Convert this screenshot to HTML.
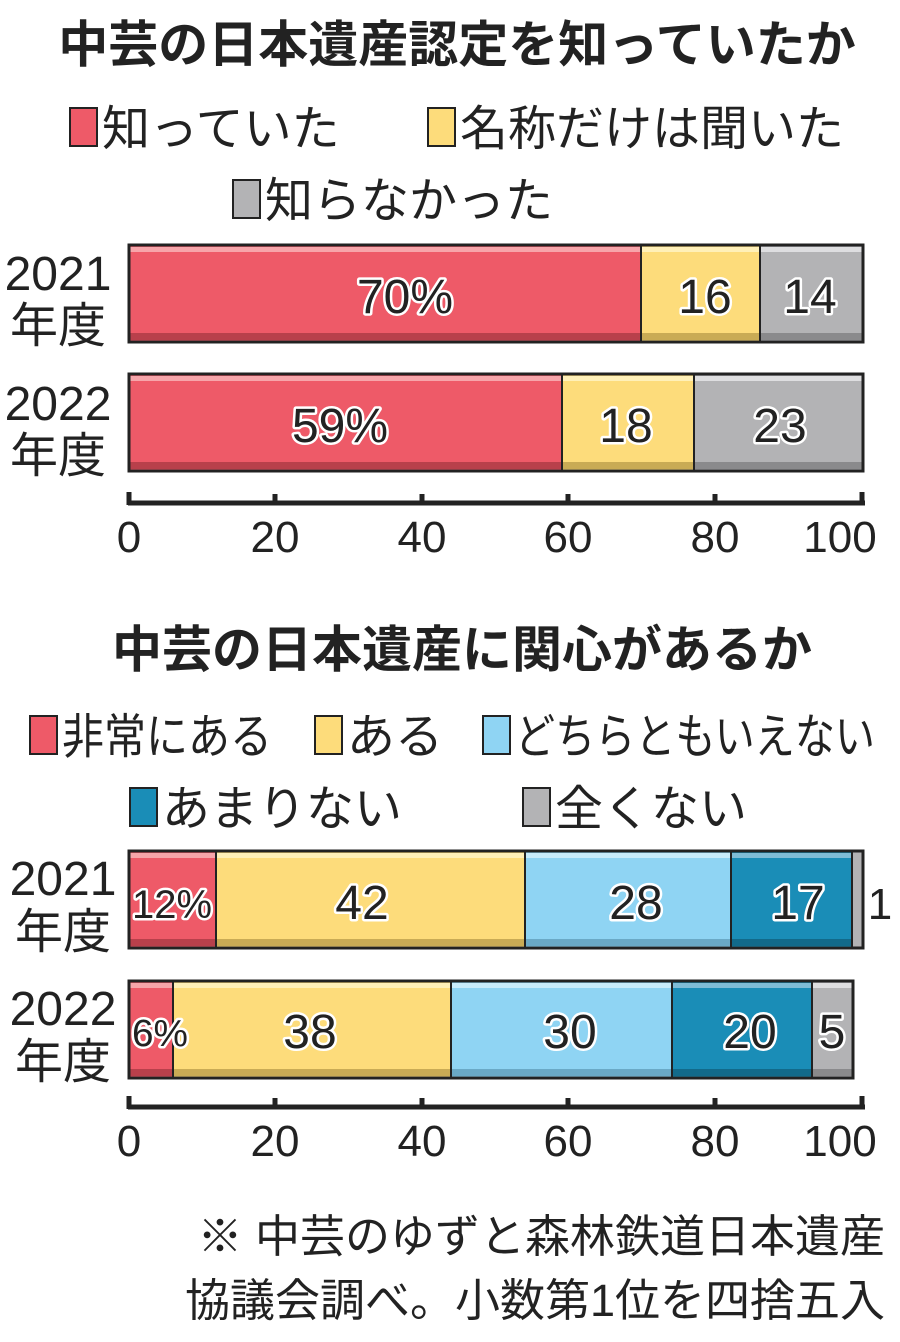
<!DOCTYPE html>
<html><head><meta charset="utf-8"><style>
body{margin:0;background:#fff}
svg text{font-family:"Liberation Sans","Noto Sans CJK JP",sans-serif;fill:#222}
.t{font-weight:bold;font-size:50px}
.l{font-size:48px}
.n{font-size:48px;stroke:#fff;stroke-width:5px;paint-order:stroke;text-anchor:middle;stroke-linejoin:round}
.a{font-size:44px;text-anchor:middle}
.y{font-size:48px;text-anchor:middle}
</style></head><body>
<svg width="900" height="1337" viewBox="0 0 900 1337" xmlns="http://www.w3.org/2000/svg">
<text class="t" x="457" y="62" text-anchor="middle">中芸の日本遺産認定を知っていたか</text>
<rect x="70" y="108" width="27" height="38" fill="#ee5a68" stroke="#222" stroke-width="2"/>
<text class="l" x="102" y="145">知っていた</text>
<rect x="428" y="108" width="27" height="38" fill="#fddc7b" stroke="#222" stroke-width="2"/>
<text class="l" x="460" y="145">名称だけは聞いた</text>
<rect x="233" y="180" width="27" height="38" fill="#b3b3b5" stroke="#222" stroke-width="2"/>
<text class="l" x="265" y="217">知らなかった</text>

<rect x="129" y="245" width="512" height="97" fill="#ee5a68"/><rect x="129" y="247" width="512" height="5" fill="#f7a5aa"/><rect x="129" y="333" width="512" height="7" fill="#b8404b"/>
<rect x="641" y="245" width="119" height="97" fill="#fddc7b"/><rect x="641" y="247" width="119" height="5" fill="#fff0b8"/><rect x="641" y="333" width="119" height="7" fill="#c9ab55"/>
<rect x="760" y="245" width="103" height="97" fill="#b3b3b5"/><rect x="760" y="247" width="103" height="5" fill="#dedee0"/><rect x="760" y="333" width="103" height="7" fill="#8a8a8c"/>
<rect x="129" y="245" width="734" height="97" fill="none" stroke="#222" stroke-width="3"/>
<line x1="641" y1="245" x2="641" y2="342" stroke="#222" stroke-width="2"/><line x1="760" y1="245" x2="760" y2="342" stroke="#222" stroke-width="2"/>
<text class="n" x="405" y="313">70%</text><text class="n" x="705" y="313">16</text><text class="n" x="810" y="313">14</text>

<rect x="129" y="374" width="433" height="97" fill="#ee5a68"/><rect x="129" y="376" width="433" height="5" fill="#f7a5aa"/><rect x="129" y="462" width="433" height="7" fill="#b8404b"/>
<rect x="562" y="374" width="132" height="97" fill="#fddc7b"/><rect x="562" y="376" width="132" height="5" fill="#fff0b8"/><rect x="562" y="462" width="132" height="7" fill="#c9ab55"/>
<rect x="694" y="374" width="169" height="97" fill="#b3b3b5"/><rect x="694" y="376" width="169" height="5" fill="#dedee0"/><rect x="694" y="462" width="169" height="7" fill="#8a8a8c"/>
<rect x="129" y="374" width="734" height="97" fill="none" stroke="#222" stroke-width="3"/>
<line x1="562" y1="374" x2="562" y2="471" stroke="#222" stroke-width="2"/><line x1="694" y1="374" x2="694" y2="471" stroke="#222" stroke-width="2"/>
<text class="n" x="340" y="442">59%</text><text class="n" x="626" y="442">18</text><text class="n" x="780" y="442">23</text>

<text class="y" x="58" y="290">2021</text><text class="y" x="58" y="342">年度</text>
<text class="y" x="58" y="420">2022</text><text class="y" x="58" y="472">年度</text>

<g stroke="#222" stroke-width="5" fill="none">
<line x1="128" y1="503" x2="865" y2="503"/>
<line x1="129" y1="492" x2="129" y2="505"/><line x1="275" y1="494" x2="275" y2="505"/><line x1="422" y1="494" x2="422" y2="505"/><line x1="568" y1="494" x2="568" y2="505"/><line x1="715" y1="494" x2="715" y2="505"/><line x1="862" y1="492" x2="862" y2="505"/>
</g>
<text class="a" x="129" y="552">0</text><text class="a" x="275" y="552">20</text><text class="a" x="422" y="552">40</text><text class="a" x="568" y="552">60</text><text class="a" x="715" y="552">80</text><text class="a" x="840" y="552">100</text>

<text class="t" x="462" y="667" text-anchor="middle">中芸の日本遺産に関心があるか</text>
<rect x="30" y="716" width="27" height="38" fill="#ee5a68" stroke="#222" stroke-width="2"/>
<text class="l" x="62" y="753" textLength="210" lengthAdjust="spacingAndGlyphs">非常にある</text>
<rect x="315" y="716" width="27" height="38" fill="#fddc7b" stroke="#222" stroke-width="2"/>
<text class="l" x="347" y="753">ある</text>
<rect x="483" y="716" width="27" height="38" fill="#8fd4f3" stroke="#222" stroke-width="2"/>
<text class="l" x="515" y="753" textLength="360" lengthAdjust="spacingAndGlyphs">どちらともいえない</text>
<rect x="130" y="788" width="27" height="38" fill="#1a8db7" stroke="#222" stroke-width="2"/>
<text class="l" x="162" y="825">あまりない</text>
<rect x="523" y="788" width="27" height="38" fill="#b3b3b5" stroke="#222" stroke-width="2"/>
<text class="l" x="555" y="825">全くない</text>

<rect x="129" y="851" width="87" height="97" fill="#ee5a68"/><rect x="129" y="853" width="87" height="5" fill="#f7a5aa"/><rect x="129" y="939" width="87" height="7" fill="#b8404b"/>
<rect x="216" y="851" width="309" height="97" fill="#fddc7b"/><rect x="216" y="853" width="309" height="5" fill="#fff0b8"/><rect x="216" y="939" width="309" height="7" fill="#c9ab55"/>
<rect x="525" y="851" width="206" height="97" fill="#8fd4f3"/><rect x="525" y="853" width="206" height="5" fill="#c8ecfb"/><rect x="525" y="939" width="206" height="7" fill="#6aa9c6"/>
<rect x="731" y="851" width="121" height="97" fill="#1a8db7"/><rect x="731" y="853" width="121" height="5" fill="#7fbcd6"/><rect x="731" y="939" width="121" height="7" fill="#126a8a"/>
<rect x="852" y="851" width="11" height="97" fill="#b3b3b5"/>
<rect x="129" y="851" width="734" height="97" fill="none" stroke="#222" stroke-width="3"/>
<g stroke="#222" stroke-width="2"><line x1="216" y1="851" x2="216" y2="948"/><line x1="525" y1="851" x2="525" y2="948"/><line x1="731" y1="851" x2="731" y2="948"/><line x1="852" y1="851" x2="852" y2="948"/></g>
<text class="n" x="172" y="918" style="font-size:40px" textLength="80" lengthAdjust="spacingAndGlyphs">12%</text><text class="n" x="362" y="919">42</text><text class="n" x="636" y="919">28</text><text class="n" x="798" y="919">17</text>
<text class="a" x="880" y="919">1</text>

<rect x="129" y="981" width="44" height="97" fill="#ee5a68"/><rect x="129" y="983" width="44" height="5" fill="#f7a5aa"/><rect x="129" y="1069" width="44" height="7" fill="#b8404b"/>
<rect x="173" y="981" width="278" height="97" fill="#fddc7b"/><rect x="173" y="983" width="278" height="5" fill="#fff0b8"/><rect x="173" y="1069" width="278" height="7" fill="#c9ab55"/>
<rect x="451" y="981" width="221" height="97" fill="#8fd4f3"/><rect x="451" y="983" width="221" height="5" fill="#c8ecfb"/><rect x="451" y="1069" width="221" height="7" fill="#6aa9c6"/>
<rect x="672" y="981" width="140" height="97" fill="#1a8db7"/><rect x="672" y="983" width="140" height="5" fill="#7fbcd6"/><rect x="672" y="1069" width="140" height="7" fill="#126a8a"/>
<rect x="812" y="981" width="41" height="97" fill="#b3b3b5"/><rect x="812" y="983" width="41" height="5" fill="#dedee0"/><rect x="812" y="1069" width="41" height="7" fill="#8a8a8c"/>
<rect x="129" y="981" width="724" height="97" fill="none" stroke="#222" stroke-width="3"/>
<g stroke="#222" stroke-width="2"><line x1="173" y1="981" x2="173" y2="1078"/><line x1="451" y1="981" x2="451" y2="1078"/><line x1="672" y1="981" x2="672" y2="1078"/><line x1="812" y1="981" x2="812" y2="1078"/></g>
<text class="n" x="160" y="1046" style="font-size:38px" textLength="56" lengthAdjust="spacingAndGlyphs">6%</text><text class="n" x="310" y="1048">38</text><text class="n" x="570" y="1048">30</text><text class="n" x="750" y="1048">20</text><text class="n" x="832" y="1048">5</text>

<text class="y" x="63" y="895">2021</text><text class="y" x="63" y="948">年度</text>
<text class="y" x="63" y="1025">2022</text><text class="y" x="63" y="1078">年度</text>

<g stroke="#222" stroke-width="5" fill="none">
<line x1="128" y1="1107" x2="865" y2="1107"/>
<line x1="129" y1="1096" x2="129" y2="1109"/><line x1="275" y1="1098" x2="275" y2="1109"/><line x1="422" y1="1098" x2="422" y2="1109"/><line x1="568" y1="1098" x2="568" y2="1109"/><line x1="715" y1="1098" x2="715" y2="1109"/><line x1="862" y1="1096" x2="862" y2="1109"/>
</g>
<text class="a" x="129" y="1156">0</text><text class="a" x="275" y="1156">20</text><text class="a" x="422" y="1156">40</text><text class="a" x="568" y="1156">60</text><text class="a" x="715" y="1156">80</text><text class="a" x="840" y="1156">100</text>

<text x="885" y="1252" text-anchor="end" style="font-size:45px">※ 中芸のゆずと森林鉄道日本遺産</text>
<text x="885" y="1316" text-anchor="end" style="font-size:45px">協議会調べ。小数第1位を四捨五入</text>
</svg>
</body></html>
